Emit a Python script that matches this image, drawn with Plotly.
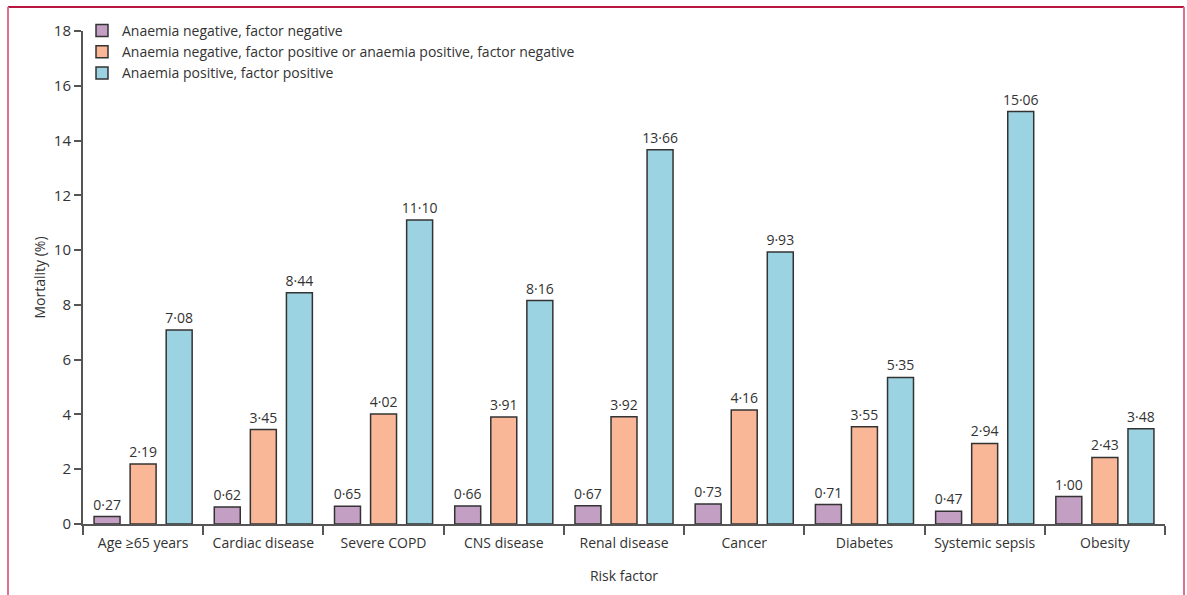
import plotly.graph_objects as go

categories = ["Age ≥65 years", "Cardiac disease", "Severe COPD", "CNS disease",
              "Renal disease", "Cancer", "Diabetes", "Systemic sepsis", "Obesity"]
neg_neg = [0.27, 0.62, 0.65, 0.66, 0.67, 0.73, 0.71, 0.47, 1.00]
mixed = [2.19, 3.45, 4.02, 3.91, 3.92, 4.16, 3.55, 2.94, 2.43]
pos_pos = [7.08, 8.44, 11.10, 8.16, 13.66, 9.93, 5.35, 15.06, 3.48]
series_names = ["Anaemia negative, factor negative",
                "Anaemia negative, factor positive or anaemia positive, factor negative",
                "Anaemia positive, factor positive"]
colors = ["#c49fc4", "#f9b797", "#9bd3e3"]
y_ticks = [0, 2, 4, 6, 8, 10, 12, 14, 16, 18]

FONT = "Open Sans"

def fmt(v):
    return f"{v:.2f}".replace(".", "·")

fig = go.Figure()
for name, vals, col in zip(series_names, [neg_neg, mixed, pos_pos], colors):
    fig.add_trace(go.Bar(
        x=categories, y=vals, name=name,
        marker=dict(color=col, line=dict(color="#333333", width=1.5)),
        text=[fmt(v) for v in vals], textposition="outside",
        textfont=dict(size=14, color="#333333", family=FONT),
        cliponaxis=False,
    ))

W, H = 1187, 595
L, R, T, B = 83, 22, 31, 71
pw, ph = W - L - R, H - T - B

def px_x(p):
    return (p - L) / pw

def px_y(p):
    return (H - B - p) / ph

fig.update_layout(
    width=W, height=H,
    margin=dict(l=L, r=R, t=T, b=B, autoexpand=False),
    paper_bgcolor="white", plot_bgcolor="white",
    font=dict(family=FONT, color="#333333", size=14),
    barmode="group", bargap=0.1, bargroupgap=0.28,
    uniformtext=dict(minsize=14, mode="show"),
    showlegend=True,
    legend=dict(x=px_x(82), y=px_y(15), xanchor="left", yanchor="top",
                font=dict(size=14, family=FONT, color="#333333"),
                bgcolor="rgba(0,0,0,0)", tracegroupgap=0, itemwidth=30),
    xaxis=dict(
        automargin=False,
        showline=True, linecolor="#555555", linewidth=2,
        ticks="outside", tickson="boundaries", ticklen=9, tickwidth=2, tickcolor="#555555",
        ticklabelstandoff=5,
        tickfont=dict(size=14, family=FONT, color="#333333"),
        title=dict(text="Risk factor", font=dict(size=14, family=FONT, color="#333333"), standoff=20),
        showgrid=False, zeroline=False,
    ),
    yaxis=dict(
        automargin=False,
        range=[0, 18], tickvals=y_ticks,
        showline=True, linecolor="#555555", linewidth=2,
        ticks="outside", ticklen=7, tickwidth=2, tickcolor="#555555",
        tickfont=dict(size=15, family=FONT, color="#333333"),
        title=dict(text="Mortality (%)", font=dict(size=14, family=FONT, color="#333333"), standoff=5),
        showgrid=False, zeroline=False,
    ),
)

# Frame border
fig.add_shape(type="line", xref="paper", yref="paper",
              x0=px_x(8), x1=px_x(1184), y0=px_y(7), y1=px_y(7),
              line=dict(color="#b8173f", width=2))
fig.add_shape(type="line", xref="paper", yref="paper",
              x0=px_x(8), x1=px_x(8), y0=px_y(7), y1=px_y(600),
              line=dict(color="#e0708f", width=2))
fig.add_shape(type="line", xref="paper", yref="paper",
              x0=px_x(1184), x1=px_x(1184), y0=px_y(7), y1=px_y(600),
              line=dict(color="#e0708f", width=2))

fig.write_html("out.html",
               config={"displayModeBar": False},
               post_script="document.body.style.margin='0';document.body.style.overflow='hidden';")
